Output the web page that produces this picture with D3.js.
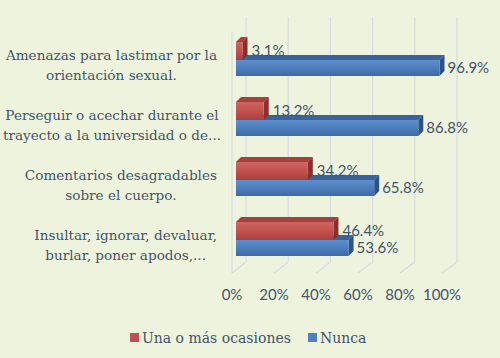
<!DOCTYPE html>
<html>
<head>
<meta charset="utf-8">
<script src="https://cdn.jsdelivr.net/npm/d3@7"></script>
<style>
  body { margin: 0; background: #eef3dd; }
  svg { display: block; }
</style>
</head>
<body>
<div id="vis"></div>
<script>
// data
const categories = [
  "Amenazas para lastimar por la|orientación sexual.",
  "Perseguir o acechar durante el|trayecto a la universidad o de...",
  "Comentarios desagradables|sobre el cuerpo.",
  "Insultar, ignorar, devaluar,|burlar, poner apodos,..."
];
const unaOMas = [3.1, 13.2, 34.2, 46.4];
const nunca = [96.9, 86.8, 65.8, 53.6];
const ticks = [0, 20, 40, 60, 80, 100];
const seriesNames = ["Una o más ocasiones", "Nunca"];

const WIDTH = 500, HEIGHT = 358;
const TEXT = "#44546a";
const DX = 5, DY = 5; // bar depth

const svg = d3.select("#vis").append("svg")
  .attr("width", WIDTH).attr("height", HEIGHT);

svg.append("rect").attr("width", WIDTH).attr("height", HEIGHT).attr("fill", "#eef3dd");

// gradients
const defs = svg.append("defs");
function grad(id, c1, c2, c3) {
  const g = defs.append("linearGradient").attr("id", id)
    .attr("x1", 0).attr("y1", 0).attr("x2", 0).attr("y2", 1);
  g.append("stop").attr("offset", "0%").attr("stop-color", c1);
  g.append("stop").attr("offset", "45%").attr("stop-color", c2);
  g.append("stop").attr("offset", "100%").attr("stop-color", c3);
}
grad("gRed", "#cf6561", "#c4534f", "#a9403d");
grad("gBlue", "#5f8fcc", "#4f80be", "#3e6aa6");

// scales
const xBar = d3.scaleLinear().domain([0, 100]).range([236, 446]);
const xBack = d3.scaleLinear().domain([0, 100]).range([246, 457]);
const xFloor = d3.scaleLinear().domain([0, 100]).range([232, 442]);
const y = d3.scaleBand().domain(categories).range([30, 270]);

const FLOOR_FRONT = 273, FLOOR_BACK = 262, WALL_TOP = 17;

// walls / gridlines
const grid = svg.append("g").attr("stroke", "#d6dce2").attr("stroke-width", 1.2).attr("fill", "none");
grid.selectAll(".gv").data(ticks).enter().append("line")
  .attr("x1", d => xBack(d)).attr("x2", d => xBack(d))
  .attr("y1", WALL_TOP).attr("y2", FLOOR_BACK);
grid.selectAll(".gf").data(ticks).enter().append("line")
  .attr("x1", d => xFloor(d)).attr("x2", d => xBack(d))
  .attr("y1", FLOOR_FRONT).attr("y2", FLOOR_BACK);
grid.append("line")
  .attr("x1", xFloor(0)).attr("x2", xFloor(0))
  .attr("y1", WALL_TOP + 15).attr("y2", FLOOR_FRONT);

// bars
function bar3d(g, x0, x1, y0, h, fill, top, side) {
  const w = x1 - x0;
  g.append("polygon")
    .attr("points", [[x0, y0], [x1, y0], [x1 + DX, y0 - DY], [x0 + DX, y0 - DY]].join(" "))
    .attr("fill", top);
  g.append("polygon")
    .attr("points", [[x1, y0], [x1 + DX, y0 - DY], [x1 + DX, y0 + h - DY], [x1, y0 + h]].join(" "))
    .attr("fill", side);
  g.append("rect").attr("x", x0).attr("y", y0).attr("width", w).attr("height", h).attr("fill", fill);
}

const bars = svg.append("g");
categories.forEach((c, i) => {
  const mid = y(c) + y.bandwidth() / 2;
  const g = bars.append("g");
  bar3d(g, xBar(0), xBar(nunca[i]), mid, 16, "url(#gBlue)", "#3c6398", "#2e5281");
  bar3d(g, xBar(0), xBar(unaOMas[i]), mid - 18, 18, "url(#gRed)", "#a5403d", "#8a2f2c");
});

// value labels
const vl = svg.append("g").attr("font-family", "Lato, sans-serif").attr("font-size", 15).attr("fill", TEXT);
categories.forEach((c, i) => {
  const mid = y(c) + y.bandwidth() / 2;
  vl.append("text").attr("x", xBar(unaOMas[i]) + 9).attr("y", mid - 9).attr("dy", "0.35em")
    .text(unaOMas[i].toFixed(1) + "%");
  vl.append("text").attr("x", xBar(nunca[i]) + 8).attr("y", mid + 8).attr("dy", "0.35em")
    .text(nunca[i].toFixed(1) + "%");
});

// x axis labels
svg.append("g").attr("font-family", "Lato, sans-serif").attr("font-size", 15).attr("fill", TEXT)
  .selectAll("text").data(ticks).enter().append("text")
  .attr("x", d => xFloor(d)).attr("y", 295).attr("dy", "0.35em")
  .attr("text-anchor", "middle").text(d => d + "%");

// category labels (centered lines, block right-aligned, kept inside the frame)
const cl = svg.append("g").attr("font-family", "'DejaVu Serif', serif").attr("font-size", 13.6).attr("fill", TEXT);
categories.forEach(c => {
  const lines = c.split("|");
  const cy = y(c) + y.bandwidth() / 2 + 5;
  const texts = lines.map((l, j) => cl.append("text")
    .attr("y", cy + (j - (lines.length - 1) / 2) * 20).attr("dy", "0.35em")
    .attr("text-anchor", "middle").text(l));
  const w = d3.max(texts, t => t.node().getComputedTextLength());
  const cx = Math.max(217 - w / 2, w / 2 + 3);
  texts.forEach(t => t.attr("x", cx));
});

// legend
const lg = svg.append("g").attr("font-family", "'DejaVu Serif', serif").attr("font-size", 14).attr("fill", TEXT);
const legendX = [130, 308];
const legendColors = ["#c0504d", "#4f81bd"];
seriesNames.forEach((s, i) => {
  lg.append("rect").attr("x", legendX[i]).attr("y", 333).attr("width", 9).attr("height", 9).attr("fill", legendColors[i]);
  lg.append("text").attr("x", legendX[i] + 12).attr("y", 338).attr("dy", "0.35em").text(s);
});
</script>
</body>
</html>
